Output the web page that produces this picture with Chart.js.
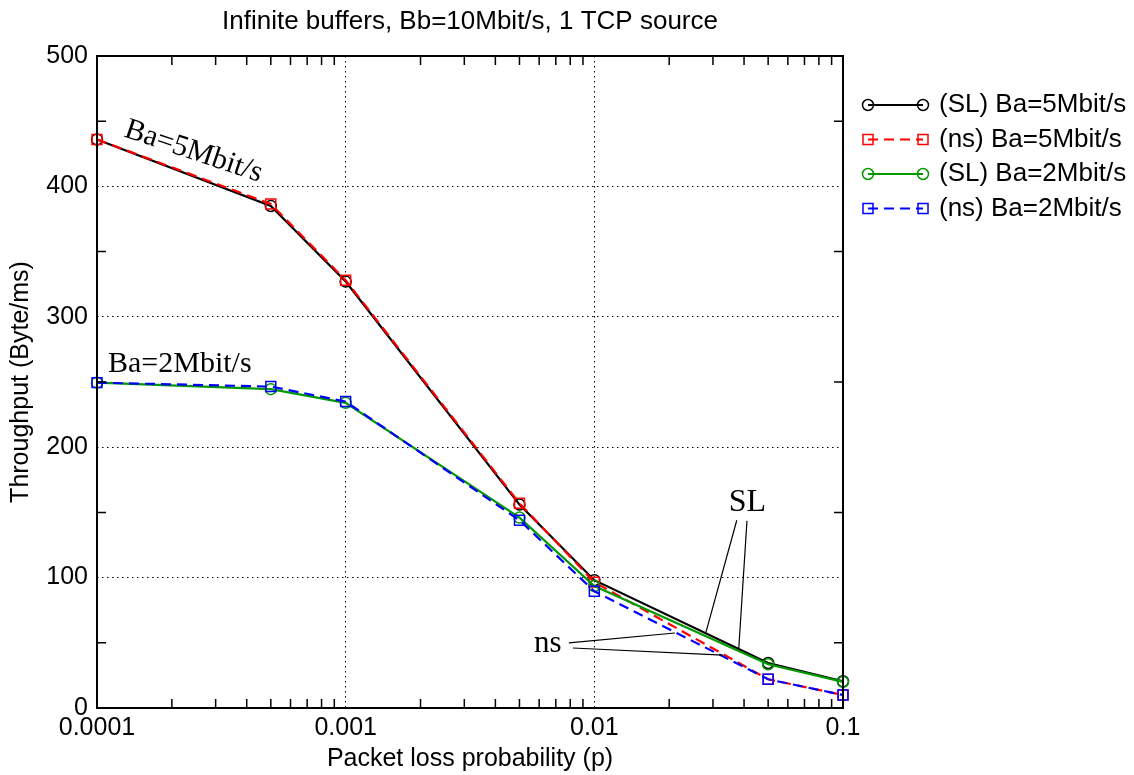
<!DOCTYPE html>
<html>
<head>
<meta charset="utf-8">
<script src="https://cdn.jsdelivr.net/npm/chart.js@4/dist/chart.umd.min.js"></script>
<style>
  html, body { margin: 0; padding: 0; background: #fff; }
  #wrap { width: 1134px; height: 775px; }
</style>
</head>
<body>
<div id="wrap"><canvas id="chart" width="1134" height="775"></canvas></div>
<script>
// データ
const lossProb = [0.0001, 0.0005, 0.001, 0.005, 0.01, 0.05, 0.1];
const slBa5 = [436, 385, 327, 156, 98, 34.5, 20.5];
const nsBa5 = [436, 386.5, 328, 157, 96.5, 22, 10];
const slBa2 = [249.5, 244.5, 234, 146, 93.5, 33.5, 20];
const nsBa2 = [249.5, 246.5, 235, 144, 89.5, 22, 10];

const seriesLabels = ['(SL) Ba=5Mbit/s', '(ns) Ba=5Mbit/s', '(SL) Ba=2Mbit/s', '(ns) Ba=2Mbit/s'];
const xTicks = [0.0001, 0.001, 0.01, 0.1];
const xTickLabels = ['0.0001', '0.001', '0.01', '0.1'];
const yTicks = [0, 100, 200, 300, 400, 500];

const titleText = 'Infinite buffers, Bb=10Mbit/s, 1 TCP source';
const xTitle = 'Packet loss probability (p)';
const yTitle = 'Throughput (Byte/ms)';

// フォント
const SANS = "'Liberation Sans', Arial, Helvetica, sans-serif";
const SERIF = "'Liberation Serif', 'Times New Roman', serif";

// 系列のスタイル
const styles = [
    { color: '#000000', dash: [], point: 'circle' },
    { color: '#ff0000', dash: [10, 6], point: 'rect' },
    { color: '#009900', dash: [], point: 'circle' },
    { color: '#0000ff', dash: [10, 6], point: 'rect' }
];

// 注記（データ座標）
const notes = [
    { text: 'Ba=5Mbit/s', x: 0.0001272, y: 438.5, angle: 18.6, align: 'left', size: 30 },
    { text: 'Ba=2Mbit/s', x: 0.0001107, y: 257.7, angle: 0, align: 'left', size: 30 },
    { text: 'SL', x: 0.04126, y: 151.1, angle: 0, align: 'center', size: 32 },
    { text: 'ns', x: 0.0065, y: 43.2, angle: 0, align: 'center', size: 31 }
];
const leaders = [
    [[0.0374, 144], [0.0281, 58]],
    [[0.0411, 143.5], [0.0381, 46]],
    [[0.0079, 50], [0.0211, 57.5]],
    [[0.0082, 46], [0.0329, 40.6]]
];

function toPoints(values) {
    return values.map((v, i) => ({ x: lossProb[i], y: v }));
}

const allSeries = [slBa5, nsBa5, slBa2, nsBa2];
const datasets = allSeries.map((values, i) => ({
    label: seriesLabels[i],
    data: toPoints(values),
    borderColor: styles[i].color,
    borderWidth: 2.2,
    borderDash: styles[i].dash,
    pointStyle: styles[i].point,
    pointRadius: styles[i].point === 'rect' ? 7 : 5.5,
    pointBorderWidth: 1.5,
    pointBorderColor: styles[i].color,
    pointBackgroundColor: 'rgba(0,0,0,0)',
    tension: 0,
    fill: false,
    clip: false,
    order: 4 - i
}));

// 小目盛の位置
const xMinor = [];
[0.0001, 0.001, 0.01].forEach(d => {
    for (let k = 2; k <= 9; k++) xMinor.push(k * d);
});
const yMinor = [50, 150, 250, 350, 450];

function drawMarker(ctx, type, x, y) {
    ctx.beginPath();
    if (type === 'circle') {
        ctx.arc(x, y, 5.5, 0, Math.PI * 2);
    } else {
        ctx.rect(x - 5, y - 5, 10, 10);
    }
    ctx.stroke();
}

const extras = {
    id: 'extras',
    afterDatasetsDraw(chart) {
        const { ctx, chartArea: a, scales: { x, y } } = chart;
        ctx.save();

        // 枠
        ctx.strokeStyle = '#000';
        ctx.lineWidth = 2;
        ctx.setLineDash([]);
        ctx.strokeRect(a.left, a.top, a.right - a.left, a.bottom - a.top);

        // 小目盛（内向き）
        ctx.lineWidth = 1.5;
        ctx.beginPath();
        xMinor.forEach(v => {
            const px = x.getPixelForValue(v);
            ctx.moveTo(px, a.bottom); ctx.lineTo(px, a.bottom - 9);
            ctx.moveTo(px, a.top); ctx.lineTo(px, a.top + 9);
        });
        yMinor.forEach(v => {
            const py = y.getPixelForValue(v);
            ctx.moveTo(a.left, py); ctx.lineTo(a.left + 9, py);
            ctx.moveTo(a.right, py); ctx.lineTo(a.right - 9, py);
        });
        ctx.stroke();

        // 引出線
        ctx.lineWidth = 1.2;
        ctx.beginPath();
        leaders.forEach(([p, q]) => {
            ctx.moveTo(x.getPixelForValue(p[0]), y.getPixelForValue(p[1]));
            ctx.lineTo(x.getPixelForValue(q[0]), y.getPixelForValue(q[1]));
        });
        ctx.stroke();

        // 注記テキスト
        ctx.fillStyle = '#000';
        ctx.textBaseline = 'alphabetic';
        notes.forEach(n => {
            ctx.save();
            ctx.font = n.size + 'px ' + SERIF;
            ctx.translate(x.getPixelForValue(n.x), y.getPixelForValue(n.y));
            ctx.rotate(n.angle * Math.PI / 180);
            ctx.textAlign = n.align;
            ctx.fillText(n.text, 0, 0);
            ctx.restore();
        });
        ctx.restore();
    },
    afterDraw(chart) {
        const { ctx, chartArea: a } = chart;
        ctx.save();

        // タイトル
        ctx.fillStyle = '#000';
        ctx.font = '26px ' + SANS;
        ctx.textAlign = 'center';
        ctx.textBaseline = 'middle';
        ctx.fillText(titleText, (a.left + a.right) / 2, 22);

        // 凡例
        const x1 = a.right + 25, x2 = a.right + 80, tx = a.right + 96;
        ctx.font = '26px ' + SANS;
        ctx.textAlign = 'left';
        seriesLabels.forEach((label, i) => {
            const ly = a.top + 49 + i * 34.5;
            const s = styles[i];
            ctx.strokeStyle = s.color;
            ctx.lineWidth = 2;
            ctx.setLineDash(s.dash);
            ctx.beginPath();
            ctx.moveTo(x1, ly); ctx.lineTo(x2, ly);
            ctx.stroke();
            ctx.setLineDash([]);
            ctx.lineWidth = 1.5;
            drawMarker(ctx, s.point, x1, ly);
            drawMarker(ctx, s.point, x2, ly);
            ctx.fillStyle = '#000';
            ctx.fillText(label, tx, ly);
        });
        ctx.restore();
    }
};

const ctx = document.getElementById('chart').getContext('2d');
Chart.defaults.font.family = SANS;
Chart.defaults.color = '#000';

new Chart(ctx, {
    type: 'line',
    data: { datasets: datasets },
    options: {
        responsive: false,
        animation: false,
        layout: { padding: { left: 0, top: 56, right: 291, bottom: 0 } },
        scales: {
            x: {
                type: 'logarithmic',
                min: 0.0001,
                max: 0.1,
                afterBuildTicks: scale => { scale.ticks = xTicks.map(v => ({ value: v })); },
                afterFit: scale => { scale.height = 67; },
                ticks: {
                    autoSkip: false,
                    maxRotation: 0,
                    padding: 5,
                    font: { size: 25 },
                    callback: value => {
                        const i = xTicks.findIndex(t => Math.abs(t - value) / t < 1e-6);
                        return i >= 0 ? xTickLabels[i] : '';
                    }
                },
                grid: { color: '#000', lineWidth: 1, drawTicks: false },
                border: { display: false, dash: [1.5, 3.5] },
                title: { display: true, text: xTitle, font: { size: 25 }, padding: { top: 0, bottom: 1 } }
            },
            y: {
                min: 0,
                max: 500,
                afterBuildTicks: scale => { scale.ticks = yTicks.map(v => ({ value: v })); },
                afterFit: scale => { scale.width = 97; },
                ticks: { padding: 9, font: { size: 25 } },
                grid: { color: '#000', lineWidth: 1, drawTicks: false },
                border: { display: false, dash: [1.5, 3.5] },
                title: { display: true, text: yTitle, font: { size: 25 }, padding: { top: 6, bottom: 0 } }
            }
        },
        plugins: {
            legend: { display: false },
            title: { display: false },
            tooltip: { enabled: false }
        }
    },
    plugins: [extras]
});
</script>
</body>
</html>
